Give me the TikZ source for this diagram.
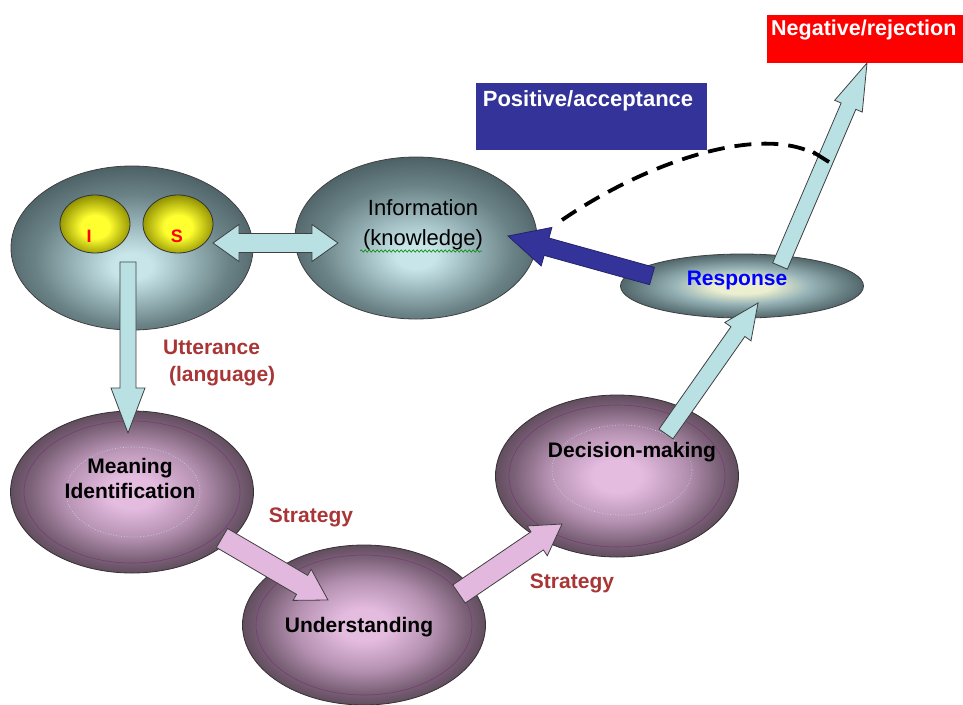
\documentclass[tikz,border=0pt]{standalone}
\usepackage{fontspec}
\setmainfont{Liberation Sans}
\usetikzlibrary{calc,shapes.geometric,decorations.pathmorphing}
\definecolor{gc}{HTML}{C8E6EA}
\definecolor{gm}{HTML}{98B4B8}
\definecolor{gd}{HTML}{6A8286}
\definecolor{ge}{HTML}{4C6064}
\definecolor{rc}{HTML}{ECEFCF}
\definecolor{pc}{HTML}{E4BCE0}
\definecolor{pm}{HTML}{B692B2}
\definecolor{pd}{HTML}{7C6279}
\definecolor{pe}{HTML}{5C4858}
\definecolor{yc}{HTML}{FFFF30}
\definecolor{ye}{HTML}{8C8C00}
\definecolor{lbfill}{HTML}{B9E0E3}
\definecolor{pkfill}{HTML}{E3B8DE}
\definecolor{navy}{HTML}{333399}
\definecolor{dred}{HTML}{A93636}
\definecolor{ringc}{HTML}{7A3A78}
\pgfdeclareradialshading{grayball}{\pgfpoint{0bp}{-6bp}}{color(0bp)=(gc); color(4bp)=(gc); color(12bp)=(gm); color(20bp)=(gd); color(28bp)=(ge); color(50bp)=(ge)}
\pgfdeclareradialshading{respball}{\pgfpoint{0bp}{0bp}}{color(0bp)=(rc); color(6bp)=(rc); color(14bp)=(gm); color(21bp)=(gd); color(26bp)=(ge); color(50bp)=(ge)}
\pgfdeclareradialshading{purpball}{\pgfpoint{0bp}{0bp}}{color(0bp)=(pc); color(5bp)=(pc); color(14bp)=(pm); color(21bp)=(pd); color(26bp)=(pe); color(50bp)=(pe)}
\pgfdeclareradialshading{yball}{\pgfpoint{0bp}{-3bp}}{color(0bp)=(yc); color(10bp)=(yc); color(27bp)=(ye); color(50bp)=(ye)}
\newcommand\blkarrow[6]{%
  \path ($(#3)!#6!(#2)$) coordinate (hb);
  \draw[#1] ($(#2)!#4!90:(#3)$) -- ($(hb)!#4!90:(#3)$) -- ($(hb)!#5!90:(#3)$) -- (#3)
    -- ($(hb)!#5!-90:(#3)$) -- ($(hb)!#4!-90:(#3)$) -- ($(#2)!#4!-90:(#3)$) -- cycle;}
\newcommand\dblarrow[6]{%
  \path ($(#3)!#6!(#2)$) coordinate (hb) ($(#2)!#6!(#3)$) coordinate (ha);
  \draw[#1] (#2) -- ($(ha)!#5!90:(#3)$) -- ($(ha)!#4!90:(#3)$) -- ($(hb)!#4!90:(#3)$) -- ($(hb)!#5!90:(#3)$) -- (#3)
    -- ($(hb)!#5!-90:(#3)$) -- ($(hb)!#4!-90:(#3)$) -- ($(ha)!#4!-90:(#3)$) -- ($(ha)!#5!-90:(#3)$) -- cycle;}
\begin{document}
\begin{tikzpicture}[x=1pt,y=-1pt,
  gball/.style={ellipse,draw=black!75,line width=0.8pt,shading=grayball,inner sep=0pt},
  pball/.style={ellipse,draw=black!80,line width=0.8pt,shading=purpball,inner sep=0pt,minimum width=243,minimum height=162},
  ring/.style={draw=ringc,line width=0.6pt},
  faint/.style={draw=cyan!20!white,dotted,line width=0.7pt,opacity=0.7},
  lbarrow/.style={fill=lbfill,draw=black!75,line width=0.8pt},
  pkarrow/.style={fill=pkfill,draw=black!75,line width=0.8pt},
  blarrow/.style={fill=navy,draw=navy!70!black,line width=0.8pt},
  btxt/.style={font=\fontsize{21}{25}\selectfont\bfseries,align=center,inner sep=0pt},
  rtxt/.style={font=\fontsize{21}{27}\selectfont\bfseries,text=dred,inner sep=0pt},
]
\useasboundingbox (0,0) rectangle (963,704);

% boxes
\node[fill=navy,minimum width=231,minimum height=67,inner sep=0pt] (posbox) at (591.5,116.5) {};
\node[font=\fontsize{22}{26}\selectfont\bfseries,text=white,inner sep=0pt] (post) at (588,101) {Positive/acceptance};
\node[fill=red,minimum width=196,minimum height=48,inner sep=0pt] (negbox) at (865,39) {};
\node[font=\fontsize{21.5}{26}\selectfont\bfseries,text=white,inner sep=0pt,anchor=west] (negt) at (771,30) {Negative/rejection};

% ellipses
\node[gball,minimum width=242,minimum height=164] (is) at (132,248) {};
\node[ellipse,draw=black!80,line width=0.8pt,shading=yball,minimum width=70,minimum height=58,inner sep=0pt] (ie) at (95,224) {};
\node[ellipse,draw=black!80,line width=0.8pt,shading=yball,minimum width=70,minimum height=58,inner sep=0pt] (se) at (178,224) {};
\node[font=\fontsize{18}{20}\selectfont\bfseries,text=red,inner sep=0pt] (it) at (89,236) {I};
\node[font=\fontsize{18}{20}\selectfont\bfseries,text=red,inner sep=0pt] (st) at (177,236) {S};

\node[gball,minimum width=242,minimum height=162] (info) at (416,238) {};
\node[ellipse,draw=black!75,line width=0.8pt,shading=respball,minimum width=243,minimum height=64,inner sep=0pt] (resp) at (742,286) {};

\node[pball] (mi) at (132,492) {};
\draw[ring] (mi.center) ellipse [x radius=108, y radius=71];
\draw[faint] (133,492) ellipse [x radius=67, y radius=45];
\node[pball,minimum height=160] (und) at (364,625) {};
\draw[ring] (und.center) ellipse [x radius=108, y radius=70];
\node[pball] (dec) at (617,476) {};
\draw[ring] (dec.center) ellipse [x radius=108, y radius=71];
\draw[faint] (622,470) ellipse [x radius=70, y radius=45];

% connector end points
\coordinate (da1) at (213,243);
\coordinate (da2) at (338,243);
\coordinate (d1) at (128,262);
\coordinate (d2) at (128,433);
\coordinate (p1a) at (222,538);
\coordinate (p1b) at (328,600);
\coordinate (p2a) at (459,594);
\coordinate (p2b) at (562,524);
\coordinate (l1a) at (666,434);
\coordinate (l1b) at (758,303);
\coordinate (l2a) at (780,266);
\coordinate (l2b) at (867,63);
\coordinate (b1a) at (652,276);
\coordinate (b1b) at (508,236);
\coordinate (c1) at (562,220);
\coordinate (c2) at (815,154);

% dashed curve
\draw[line width=3.8pt,dash pattern=on 17pt off 10pt] (c1) .. controls (650,160) and (760,125) .. (c2);

% block arrows
\dblarrow{lbarrow}{da1}{da2}{9.5pt}{18.5pt}{26pt}
\blkarrow{lbarrow}{d1}{d2}{8pt}{17pt}{45pt}
\blkarrow{pkarrow}{p1a}{p1b}{11pt}{18pt}{30pt}
\blkarrow{pkarrow}{p2a}{p2b}{11pt}{18pt}{30pt}
\blkarrow{lbarrow}{l1a}{l1b}{8.5pt}{16pt}{35pt}
\blkarrow{lbarrow}{l2a}{l2b}{8pt}{15pt}{47pt}
\blkarrow{blarrow}{b1a}{b1b}{9pt}{20pt}{40pt}

\draw[line width=3.8pt] (813,152) -- (829,162);

% texts
\node[font=\fontsize{22}{30}\selectfont,align=center,inner sep=0pt] (infot) at (423,225) {Information\\(knowledge)};
\draw[green!55!black,line width=0.6pt,decorate,decoration={snake,amplitude=1.2pt,segment length=4pt}] (360,251) -- (482,251);
\node[font=\fontsize{21}{25}\selectfont\bfseries,text=blue,inner sep=0pt] (respt) at (737,280) {Response};
\node[rtxt,align=left,anchor=west] (utt) at (163,363) {Utterance\\\ (language)};
\node[btxt] (mit) at (130,478) {Meaning\\Identification};
\node[btxt] (undt) at (359,627) {Understanding};
\node[btxt] (dect) at (632,452) {Decision-making};
\node[rtxt] (str1) at (311,517) {Strategy};
\node[rtxt] (str2) at (572,583) {Strategy};
\end{tikzpicture}
\end{document}
